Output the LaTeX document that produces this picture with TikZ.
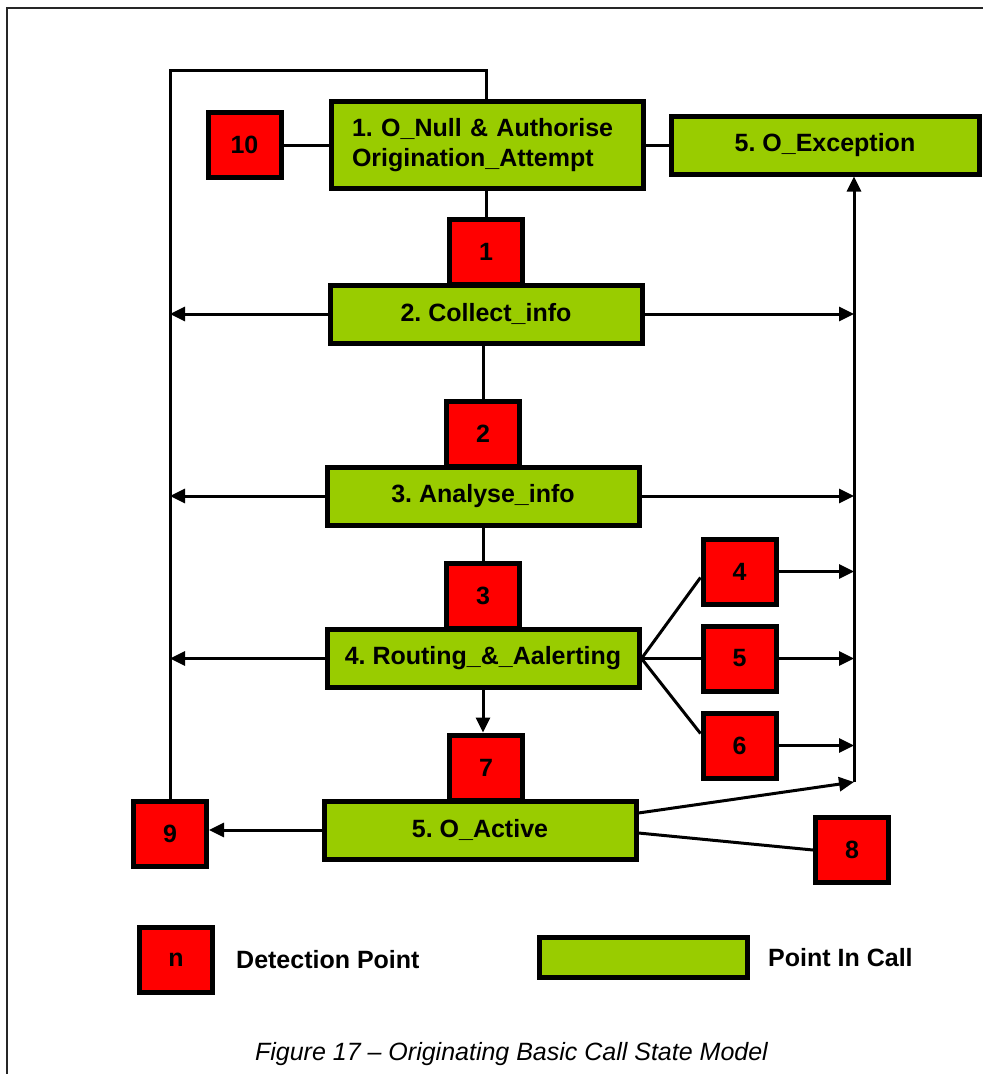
\documentclass[tikz,border=0pt]{standalone}
\usepackage{fontspec}
\setmainfont{Liberation Sans}
\usepackage{tikz}
\usetikzlibrary{arrows.meta, positioning, calc}
\definecolor{picgreen}{RGB}{153, 204, 0}
\definecolor{dpred}{RGB}{255, 0, 0}
\frenchspacing

\begin{document}
\begin{tikzpicture}[
    x=1pt, y=-1pt,
    pcall/.style={rectangle, draw=black, fill=picgreen, line width=5pt,
                  minimum width=312pt, minimum height=58pt, align=center,
                  font=\bfseries\fontsize{25}{30}\selectfont},
    dpoint/.style={rectangle, draw=black, fill=dpred, line width=5pt,
                   minimum width=73pt, minimum height=65pt, inner sep=0pt,
                   font=\bfseries\fontsize{25}{30}\selectfont},
    keytext/.style={anchor=west, inner sep=0pt, font=\bfseries\fontsize{25}{30}\selectfont},
    conn/.style={line width=3pt, color=black},
    arrow/.style={conn, -{Triangle[length=15pt, width=14pt]}},
]
    \useasboundingbox (0,0) rectangle (983,1074);
    \draw[line width=2pt, black!85] (7,1074) -- (7,8) -- (983,8);

    % Points in call
    \node[pcall, minimum height=87pt, text width=270pt, align=left] (init) at (487,145)
        {1. O\_Null \& Authorise\\Origination\_Attempt};
    \node[dpoint, left=45pt of init] (dp10) {10};
    \node[pcall, minimum width=308pt, right=23pt of init] (exc) {5. O\_Exception};
    \node[pcall] (collect) at (486,314) {2. Collect\_info};
    \node[pcall] (analyse) at (483,496) {3. Analyse\_info};
    \node[pcall] (route) at (483,658.5) {4. Routing\_\&\_Aalerting};
    \node[pcall] (active) at (480,830) {5. O\_Active};

    % Detection points
    \node[dpoint, above=-4pt of collect] (dp1) {1};
    \node[dpoint, above=-4pt of analyse] (dp2) {2};
    \node[dpoint, above=-4pt of route] (dp3) {3};
    \node[dpoint, above=-4pt of active, xshift=6pt] (dp7) {7};
    \node[dpoint, right=59pt of route] (dp5) {5};
    \node[dpoint, above=17pt of dp5] (dp4) {4};
    \node[dpoint, below=17pt of dp5] (dp6) {6};
    \node[dpoint] (dp8) at (852,850) {8};
    \node[dpoint] (dp9) at (170,834) {9};

    % Legend and caption
    \node[dpoint] (keydp) at (176,960) {n};
    \node[keytext, right=21pt of keydp] (keydptext) {Detection Point};
    \node[pcall, minimum width=208pt, minimum height=40pt] (keypic) at (643.5,957.5) {};
    \node[keytext, right=18pt of keypic] (keypictext) {Point In Call};
    \node[font=\itshape\fontsize{25}{30}\selectfont, anchor=base] (caption) at (511.5,1060)
        {Figure 17 \textendash{} Originating Basic Call State Model};

    \coordinate (bus) at (854,782);
    \coordinate (looptop) at ($(init.north -| dp1.north)+(0,-29)$);

    % Main column
    \draw[conn] (dp10) -- (init);
    \draw[conn] (init) -- (exc);
    \draw[conn] (init.south -| dp1.north) -- (dp1.north);
    \draw[conn] (collect.south -| dp2.north) -- (dp2.north);
    \draw[conn] (analyse.south -| dp3.north) -- (dp3.north);
    \draw[arrow] (route.south) -- (route.south |- dp7.north);

    % Left side, back to O_Null
    \draw[conn] (dp9.north) |- (looptop) -- (init.north -| looptop);
    \draw[arrow] (collect.west) -- (collect.west -| dp9.north);
    \draw[arrow] (analyse.west) -- (analyse.west -| dp9.north);
    \draw[arrow] (route.west) -- (route.west -| dp9.north);
    \draw[arrow] (active.west) -- (active.west -| dp9.east);

    % Right side, up to O_Exception
    \draw[arrow] (collect.east) -- (collect.east -| bus);
    \draw[arrow] (analyse.east) -- (analyse.east -| bus);
    \draw[conn] (route.east) -- ([yshift=-6pt]dp4.west);
    \draw[conn] (route.east) -- (dp5.west);
    \draw[conn] (route.east) -- ([yshift=12pt]dp6.west);
    \draw[arrow] (dp4.east) -- (dp4.east -| bus);
    \draw[arrow] (dp5.east) -- (dp5.east -| bus);
    \draw[arrow] (dp6.east) -- (dp6.east -| bus);
    \draw[arrow] ([yshift=17pt]active.east) -- (bus);
    \draw[conn] ([yshift=-3pt]active.east) -- (dp8.west);
    \draw[arrow] (bus) -- (bus |- exc.south);
\end{tikzpicture}
\end{document}
